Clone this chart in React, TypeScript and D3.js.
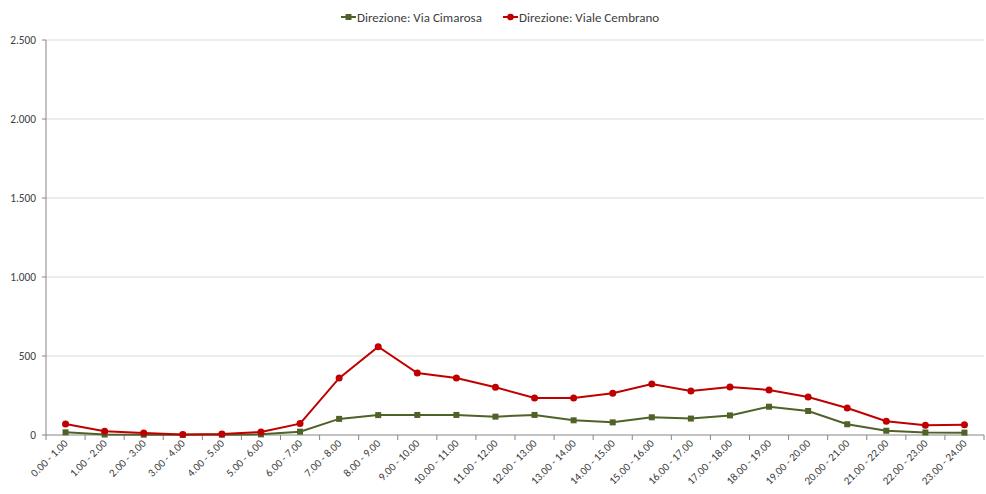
import * as d3 from "d3";

const categories = [
  "0.00 - 1.00", "1.00 - 2.00", "2.00 - 3.00", "3.00 - 4.00", "4.00 - 5.00", "5.00 - 6.00",
  "6.00 - 7.00", "7.00 - 8.00", "8.00 - 9.00", "9.00 - 10.00", "10.00 - 11.00", "11.00 - 12.00",
  "12.00 - 13.00", "13.00 - 14.00", "14.00 - 15.00", "15.00 - 16.00", "16.00 - 17.00", "17.00 - 18.00",
  "18.00 - 19.00", "19.00 - 20.00", "20.00 - 21.00", "21.00 - 22.00", "22.00 - 23.00", "23.00 - 24.00",
];

const viaCimarosa = [17, 3, 2, 1, 2, 4, 21, 102, 126, 127, 127, 116, 127, 93, 80, 112, 104, 124, 179, 152, 68, 27, 16, 15];
const vialeCembrano = [70, 24, 13, 3, 6, 19, 72, 360, 559, 392, 361, 302, 234, 234, 264, 323, 278, 304, 285, 240, 171, 87, 61, 65];

const yTicks = [0, 500, 1000, 1500, 2000, 2500];

const W = 986;
const H = 494;
const M = { top: 40, right: 2, bottom: 59, left: 46 };
const FONT = "Carlito, Calibri, Lato, 'Liberation Sans', sans-serif";

const fmt = (v: number) => d3.format(",")(v).replace(/,/g, ".");

export default function App() {
  const iw = W - M.left - M.right;
  const ih = H - M.top - M.bottom;

  const x = d3.scaleBand<string>().domain(categories).range([0, iw]);
  const y = d3.scaleLinear().domain([0, 2500]).range([ih, 0]);
  const cx = (c: string) => (x(c) ?? 0) + x.bandwidth() / 2;

  const line = d3
    .line<number>()
    .x((_, i) => cx(categories[i]))
    .y((d) => y(d));

  const series = [
    { name: "Direzione: Via Cimarosa", values: viaCimarosa, color: "#4F6228", shape: "square" },
    { name: "Direzione: Viale Cembrano", values: vialeCembrano, color: "#C00000", shape: "circle" },
  ];

  const legendX = [341, 503];

  return (
    <svg width={W} height={H} style={{ position: "absolute", left: 0, top: 0, background: "#fff" }} fontFamily={FONT}>
      {/* legend */}
      {series.map((s, i) => (
        <g key={s.name} transform={`translate(${legendX[i]},17)`}>
          <line x1={0} x2={15} y1={0} y2={0} stroke={s.color} strokeWidth={2} />
          {s.shape === "square" ? (
            <rect x={4.5} y={-3} width={6} height={6} fill={s.color} />
          ) : (
            <circle cx={7.5} cy={0} r={3.3} fill={s.color} />
          )}
          <text x={16} y={4.5} fontSize={13} fill="#404040">
            {s.name}
          </text>
        </g>
      ))}

      <g transform={`translate(${M.left},${M.top})`}>
        {/* grid */}
        {yTicks.slice(1).map((t) => (
          <line key={t} x1={0} x2={iw} y1={y(t)} y2={y(t)} stroke="#d9d9d9" strokeWidth={1} />
        ))}
        {/* y axis */}
        <line x1={0} x2={0} y1={0} y2={ih} stroke="#868686" strokeWidth={1} />
        {yTicks.map((t) => (
          <g key={t}>
            <line x1={-4} x2={0} y1={y(t)} y2={y(t)} stroke="#868686" />
            <text x={-10} y={y(t) + 4} textAnchor="end" fontSize={11.3} fill="#404040">
              {fmt(t)}
            </text>
          </g>
        ))}
        {/* x axis */}
        <line x1={0} x2={iw} y1={ih} y2={ih} stroke="#868686" strokeWidth={1} />
        {categories.map((c) => (
          <line key={"t" + c} x1={x(c)} x2={x(c)} y1={ih} y2={ih + 5} stroke="#868686" />
        ))}
        <line x1={iw} x2={iw} y1={ih} y2={ih + 5} stroke="#868686" />
        {categories.map((c) => (
          <text
            key={"l" + c}
            transform={`translate(${cx(c) + 3},${ih + 9}) rotate(-45)`}
            textAnchor="end"
            fontSize={11}
            fill="#404040"
          >
            {c}
          </text>
        ))}

        {/* series */}
        {series.map((s) => (
          <g key={s.name}>
            <path d={line(s.values) ?? ""} fill="none" stroke={s.color} strokeWidth={2} />
            {s.values.map((v, i) =>
              s.shape === "square" ? (
                <rect key={i} x={cx(categories[i]) - 3} y={y(v) - 3} width={6} height={6} fill={s.color} />
              ) : (
                <circle key={i} cx={cx(categories[i])} cy={y(v)} r={3.5} fill={s.color} />
              )
            )}
          </g>
        ))}
      </g>
    </svg>
  );
}
